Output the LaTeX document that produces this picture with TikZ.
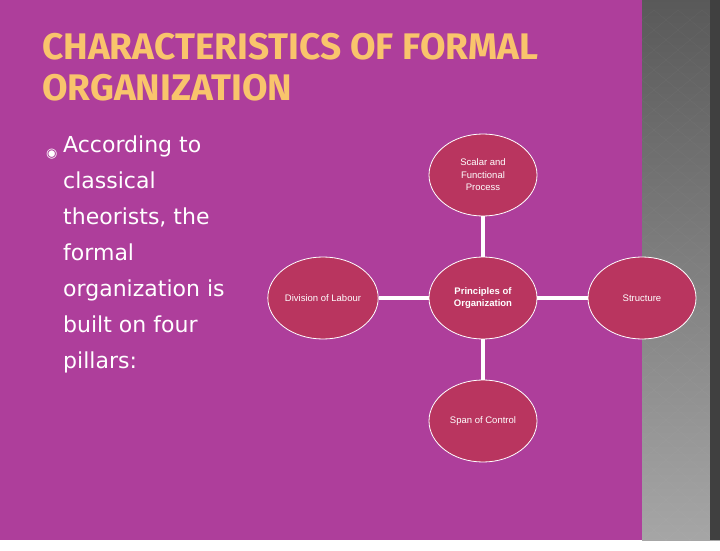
\documentclass[tikz,border=0pt]{standalone}
\usepackage{fontspec}
\usetikzlibrary{shapes.geometric}
\setmainfont{DejaVu Sans}
\newfontfamily\titlefont{Fira Sans}
\newfontfamily\nodefont{Liberation Sans}
\definecolor{slidebg}{HTML}{AE3E9B}
\definecolor{pillarfill}{HTML}{B9355F}
\definecolor{titlegold}{HTML}{F9C46C}
\begin{document}
\begin{tikzpicture}[x=1pt,y=-1pt,
  pillar/.style={ellipse,draw=white,fill=pillarfill,line width=0.8pt,minimum width=108pt,minimum height=82pt,inner sep=1pt,align=center,text=white,font=\nodefont\fontsize{9.5}{12.5}\selectfont},
  link/.style={draw=white,line width=4pt}]
\fill[slidebg] (0,0) rectangle (720,540);
\shade[top color=black!65,bottom color=black!35] (642,0) rectangle (720,540);
\foreach \row in {0,...,26}{
  \foreach \col in {0,1,2}{
    \draw[white,opacity=0.04] (654+\col*24,10+\row*20) -- ++(12,10) -- ++(-12,10) -- ++(-12,-10) -- cycle;
  }
}
\fill[black!75] (710,0) rectangle (720,540);
% title
\node[anchor=base west,inner sep=0,text=titlegold,font=\titlefont\bfseries\fontsize{37}{40}\selectfont] (title1) at (42,60) {CHARACTERISTICS OF FORMAL};
\node[anchor=base west,inner sep=0,text=titlegold,font=\titlefont\bfseries\fontsize{37}{40}\selectfont] (title2) at (42,101) {ORGANIZATION};
% body text
\node[anchor=base west,inner sep=0,text=white,font=\fontsize{13}{18}\selectfont] (bullet) at (46,158) {◉};
\node[anchor=north west,inner sep=0,text=white,align=left,font=\fontsize{22}{36}\selectfont] (body) at (63,136) {According to\\classical\\theorists, the\\formal\\organization is\\built on four\\pillars:};
% diagram
\node[pillar,font=\nodefont\bfseries\fontsize{9.5}{12.5}\selectfont] (principles) at (483,298) {Principles of\\Organization};
\node[pillar] (scalar) at (483,175) {Scalar and\\Functional\\Process};
\node[pillar] (division) at (323,298) {Division of Labour};
\node[pillar] (structure) at (642,298) {Structure};
\node[pillar] (span) at (483,421) {Span of Control};
\draw[link] (principles) -- (scalar);
\draw[link] (principles) -- (division);
\draw[link] (principles) -- (structure);
\draw[link] (principles) -- (span);
\end{tikzpicture}
\end{document}
